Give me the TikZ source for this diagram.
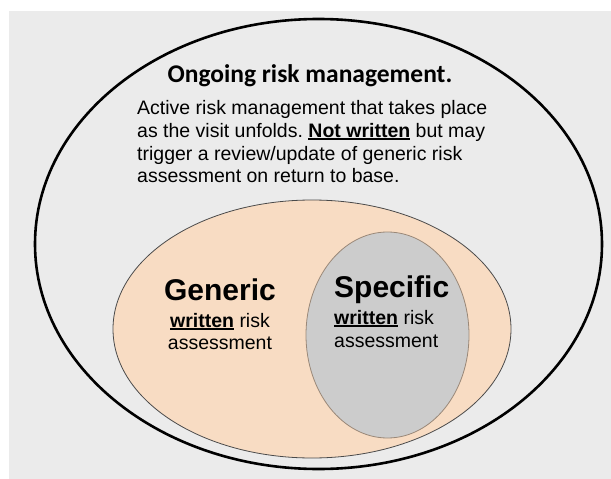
\documentclass[tikz,border=0pt]{standalone}
\usepackage{fontspec}
\setmainfont{Liberation Sans}
\newfontfamily\titlefont{Carlito}
\frenchspacing
\definecolor{bggray}{HTML}{EBEBEB}
\definecolor{peach}{HTML}{F8DCC3}
\definecolor{peachline}{HTML}{4A4A4A}
\definecolor{specfill}{HTML}{CCCCCC}
\definecolor{specline}{HTML}{9A8878}
\newsavebox\myulbox
\newcommand\myul[1]{\sbox\myulbox{#1}\rlap{\rule[-2.6pt]{\wd\myulbox}{1.3pt}}\usebox\myulbox}
\tikzset{
  bodytxt/.style={inner sep=0pt, font=\fontsize{19.5}{22}\selectfont, anchor=base west},
  bigtxt/.style={inner sep=0pt, font=\fontsize{30}{32}\selectfont\bfseries, anchor=base},
  titletxt/.style={inner sep=0pt, font=\fontsize{25.5}{28}\selectfont\titlefont\bfseries, anchor=base},
  outerell/.style={draw=black, line width=2.6pt},
  genell/.style={draw=peachline, fill=peach, line width=0.8pt},
  specell/.style={draw=specline, fill=specfill, line width=0.8pt}
}
\begin{document}
\begin{tikzpicture}[x=1pt,y=-1pt]
\useasboundingbox (0,0) rectangle (611,479);
\fill[white] (0,0) rectangle (611,479);
\fill[bggray] (9,11) rectangle (611,479);
% ellipses
\draw[outerell] (318.5,244) ellipse [x radius=283.5, y radius=225];
\draw[genell] (312,329) ellipse [x radius=199, y radius=129];
\draw[specell] (387.5,335) ellipse [x radius=81.5, y radius=103];
% title and body
\node[titletxt] (title) at (310,82) {Ongoing risk management.};
\node[bodytxt] (b1) at (137,114) {Active risk management that takes place};
\node[bodytxt] (b2) at (137,137) {as the visit unfolds. \myul{\textbf{Not written}} but may};
\node[bodytxt] (b3) at (137,160) {trigger a review/update of generic risk};
\node[bodytxt] (b4) at (137,182) {assessment on return to base.};
% generic
\node[bigtxt] (gen) at (220,300) {Generic};
\node[bodytxt, anchor=base] (g1) at (220,327) {\myul{\textbf{written}} risk};
\node[bodytxt, anchor=base] (g2) at (220,349) {assessment};
% specific
\node[bigtxt, anchor=base west] (spec) at (334,297) {Specific};
\node[bodytxt] (s1) at (334,324) {\myul{\textbf{written}} risk};
\node[bodytxt] (s2) at (334,347) {assessment};
\end{tikzpicture}
\end{document}
